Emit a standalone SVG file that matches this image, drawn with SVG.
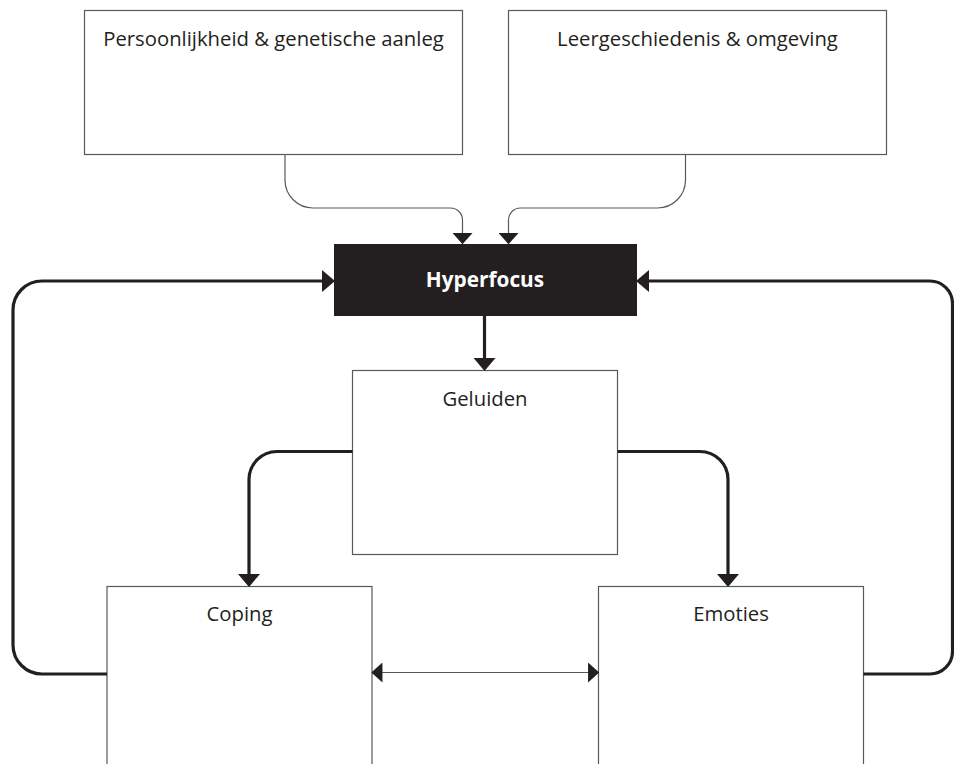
<svg xmlns="http://www.w3.org/2000/svg" width="954" height="764" viewBox="0 0 954 764">
<defs>
<style>
.box{fill:#ffffff;stroke:#58595b;stroke-width:1.2}
.dark{fill:#231f20;stroke:none}
.lbl{font-family:"Open Sans","Noto Sans","Liberation Sans",sans-serif;font-size:20.3px;fill:#231f20;text-anchor:middle}
.lblb{font-family:"Open Sans","Noto Sans","Liberation Sans",sans-serif;font-size:20.8px;font-weight:bold;fill:#ffffff;text-anchor:middle}
.thin{fill:none;stroke:#58595b;stroke-width:1.2}
.thick{fill:none;stroke:#231f20;stroke-width:3.2}
</style>
<marker id="ah" markerUnits="userSpaceOnUse" markerWidth="12" markerHeight="20" viewBox="0 0 10 18" refX="4" refY="9" orient="auto-start-reverse">
<path d="M0,0 L10,9 L0,18 z" fill="#231f20"/>
</marker>
<marker id="ahb" markerUnits="userSpaceOnUse" markerWidth="13" markerHeight="22" viewBox="0 0 13 22" refX="6" refY="11" orient="auto">
<path d="M0,0 L13,11 L0,22 z" fill="#231f20"/>
</marker>
</defs>
<g id="n-persoonlijkheid">
<rect class="box" x="84.5" y="10.5" width="378" height="144"/>
<text class="lbl" x="273.5" y="45.5">Persoonlijkheid &amp; genetische aanleg</text>
</g>
<g id="n-leergeschiedenis">
<rect class="box" x="508.5" y="10.5" width="378" height="144"/>
<text class="lbl" x="697.5" y="45.5">Leergeschiedenis &amp; omgeving</text>
</g>
<g id="n-hyperfocus">
<rect class="dark" x="334" y="244" width="303" height="72"/>
<text class="lblb" x="485" y="286.5">Hyperfocus</text>
</g>
<g id="n-geluiden">
<rect class="box" x="352.5" y="370.5" width="265" height="184"/>
<text class="lbl" x="485" y="405.5">Geluiden</text>
</g>
<g id="n-coping">
<rect class="box" x="107" y="586.5" width="265" height="200"/>
<text class="lbl" x="239.5" y="621">Coping</text>
</g>
<g id="n-emoties">
<rect class="box" x="598.5" y="586.5" width="265" height="200"/>
<text class="lbl" x="731" y="621">Emoties</text>
</g>
<g id="connectors">
<path class="thin" d="M285,155 V180 A28,28 0 0 0 313,208 H450.5 A12,12 0 0 1 462.5,220 V237.5" marker-end="url(#ah)"/>
<path class="thin" d="M685.5,155 V180 A28,28 0 0 1 657.5,208 H520.5 A12,12 0 0 0 508.5,220 V237.5" marker-end="url(#ah)"/>
<path class="thick" d="M484.5,316 V364" marker-end="url(#ahb)"/>
<path class="thick" d="M352.5,451.5 H277 A28,28 0 0 0 249,479.5 V580" marker-end="url(#ahb)"/>
<path class="thick" d="M617.5,451.5 H700 A28,28 0 0 1 728,479.5 V580" marker-end="url(#ahb)"/>
<path class="thick" d="M107,674 H42 A29,29 0 0 1 13,645 V310 A29,29 0 0 1 42,281 H328" marker-end="url(#ahb)"/>
<path class="thick" d="M863.5,674 H930 A22.5,22.5 0 0 0 952.5,651.5 V303.5 A22.5,22.5 0 0 0 930,281 H643" marker-end="url(#ahb)"/>
<path class="thin" d="M378,672.5 H592.5" marker-start="url(#ah)" marker-end="url(#ah)"/>
</g>
</svg>
